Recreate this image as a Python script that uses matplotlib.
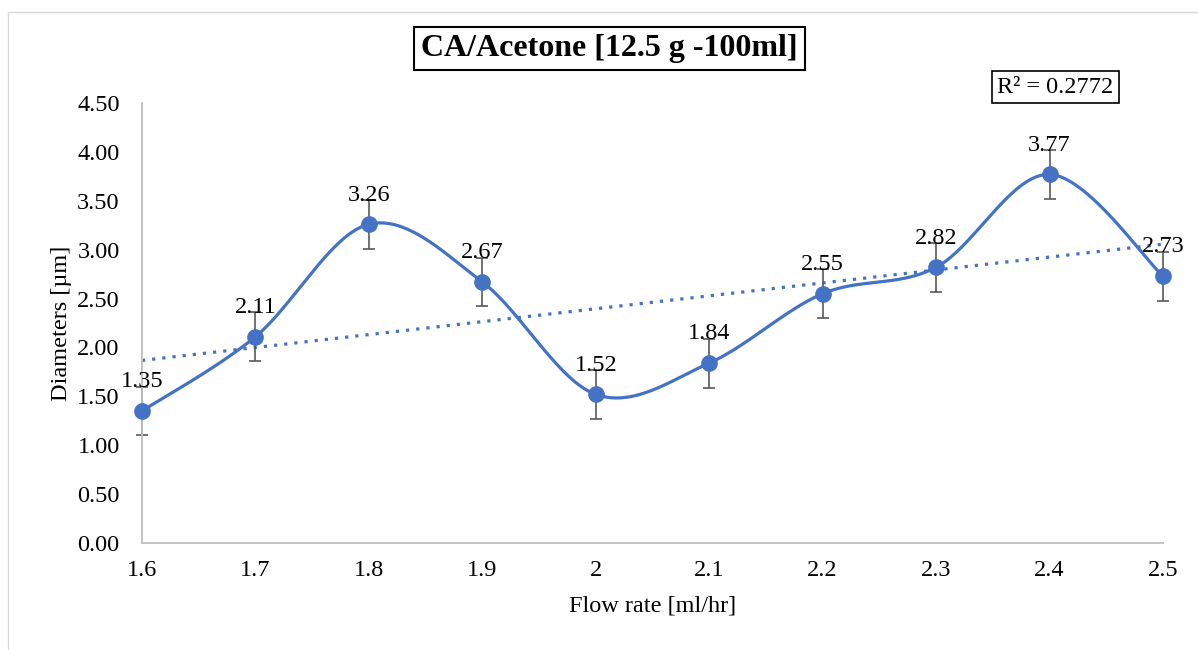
import matplotlib.pyplot as plt
import matplotlib.patches as patches
import numpy as np

flow = [1.6, 1.7, 1.8, 1.9, 2.0, 2.1, 2.2, 2.3, 2.4, 2.5]
diam = [1.35, 2.11, 3.26, 2.67, 1.52, 1.84, 2.55, 2.82, 3.77, 2.73]
err = [0.25] * 10
xlabels = ['1.6', '1.7', '1.8', '1.9', '2', '2.1', '2.2', '2.3', '2.4', '2.5']
r2_text = 'R² = 0.2772'

blue = '#4472C4'
plt.rcParams['font.family'] = ['Liberation Serif', 'DejaVu Serif']


def smooth(xs, ys, n=40):
    # excel-like smoothed line (bezier through catmull-rom control points)
    xs = np.asarray(xs, float)
    ys = np.asarray(ys, float)
    px = np.concatenate([[xs[0]], xs, [xs[-1]]])
    py = np.concatenate([[ys[0]], ys, [ys[-1]]])
    outx, outy = [], []
    t = np.linspace(0, 1, n)
    for i in range(1, len(px) - 2):
        p0 = np.array([px[i - 1], py[i - 1]])
        p1 = np.array([px[i], py[i]])
        p2 = np.array([px[i + 1], py[i + 1]])
        p3 = np.array([px[i + 2], py[i + 2]])
        c1 = p1 + (p2 - p0) / 6
        c2 = p2 - (p3 - p1) / 6
        b = ((1 - t) ** 3)[:, None] * p1 + (3 * (1 - t) ** 2 * t)[:, None] * c1 \
            + (3 * (1 - t) * t ** 2)[:, None] * c2 + (t ** 3)[:, None] * p2
        outx.extend(b[:, 0])
        outy.extend(b[:, 1])
    return np.array(outx), np.array(outy)


fig = plt.figure(figsize=(11.98, 6.5), dpi=100)
ax = fig.add_axes([0.1185, 0.1646, 0.8523, 0.6769])

# outer chart border
fig.patches.append(patches.Rectangle((8 / 1198, -0.01), 1.1, 1 - 12 / 650 + 0.01,
                                     transform=fig.transFigure, fill=False,
                                     edgecolor='#d9d9d9', linewidth=1))

sx, sy = smooth(flow, diam)
ax.plot(sx, sy, color=blue, linewidth=2.3, zorder=3, clip_on=False)

# linear trendline
coef = np.polyfit(flow, diam, 1)
tx = np.array([flow[0], flow[-1]])
ax.plot(tx, np.polyval(coef, tx), color=blue, linestyle=(0, (1, 2.2)),
        linewidth=2.3, zorder=2, clip_on=False)

eb = ax.errorbar(flow, diam, yerr=err, fmt='none', ecolor='#595959',
                 elinewidth=1.2, capsize=4, capthick=1.2, zorder=2.5)
for art in eb.lines[1] + eb.lines[2]:
    art.set_clip_on(False)
ax.plot(flow, diam, 'o', color=blue, markersize=11, zorder=4, clip_on=False)

for x, y in zip(flow, diam):
    ax.annotate(f'{y:.2f}', (x, y), xytext=(0, 21), textcoords='offset points',
                ha='center', va='center', fontsize=17.5, zorder=5)

ax.set_xlim(1.6, 2.5)
ax.set_ylim(0, 4.5)
ax.set_xticks(flow)
ax.set_xticklabels(xlabels)
ax.set_yticks(np.arange(0, 4.51, 0.5))
ax.set_yticklabels([f'{v:.2f}' for v in np.arange(0, 4.51, 0.5)])
ax.tick_params(length=0, labelsize=17.5)
ax.tick_params(axis='y', pad=16)
ax.tick_params(axis='x', pad=12)
for s in ['top', 'right']:
    ax.spines[s].set_visible(False)
for s in ['left', 'bottom']:
    ax.spines[s].set_color('#bfbfbf')
    ax.spines[s].set_linewidth(1.3)
ax.set_xlabel('Flow rate [ml/hr]', fontsize=17.5, labelpad=11)
ax.set_ylabel('Diameters [µm]', fontsize=17.5, labelpad=4)

fig.text(0.5085, 0.926, 'CA/Acetone [12.5 g -100ml]', ha='center', va='center',
         fontsize=23, fontweight='bold',
         bbox=dict(boxstyle='square,pad=0.22', facecolor='white', edgecolor='black', linewidth=1.5))
fig.text(0.881, 0.866, r2_text, ha='center', va='center', fontsize=17.5,
         bbox=dict(boxstyle='square,pad=0.22', facecolor='white', edgecolor='black', linewidth=1.2))

fig.savefig('out.png', dpi=100)
